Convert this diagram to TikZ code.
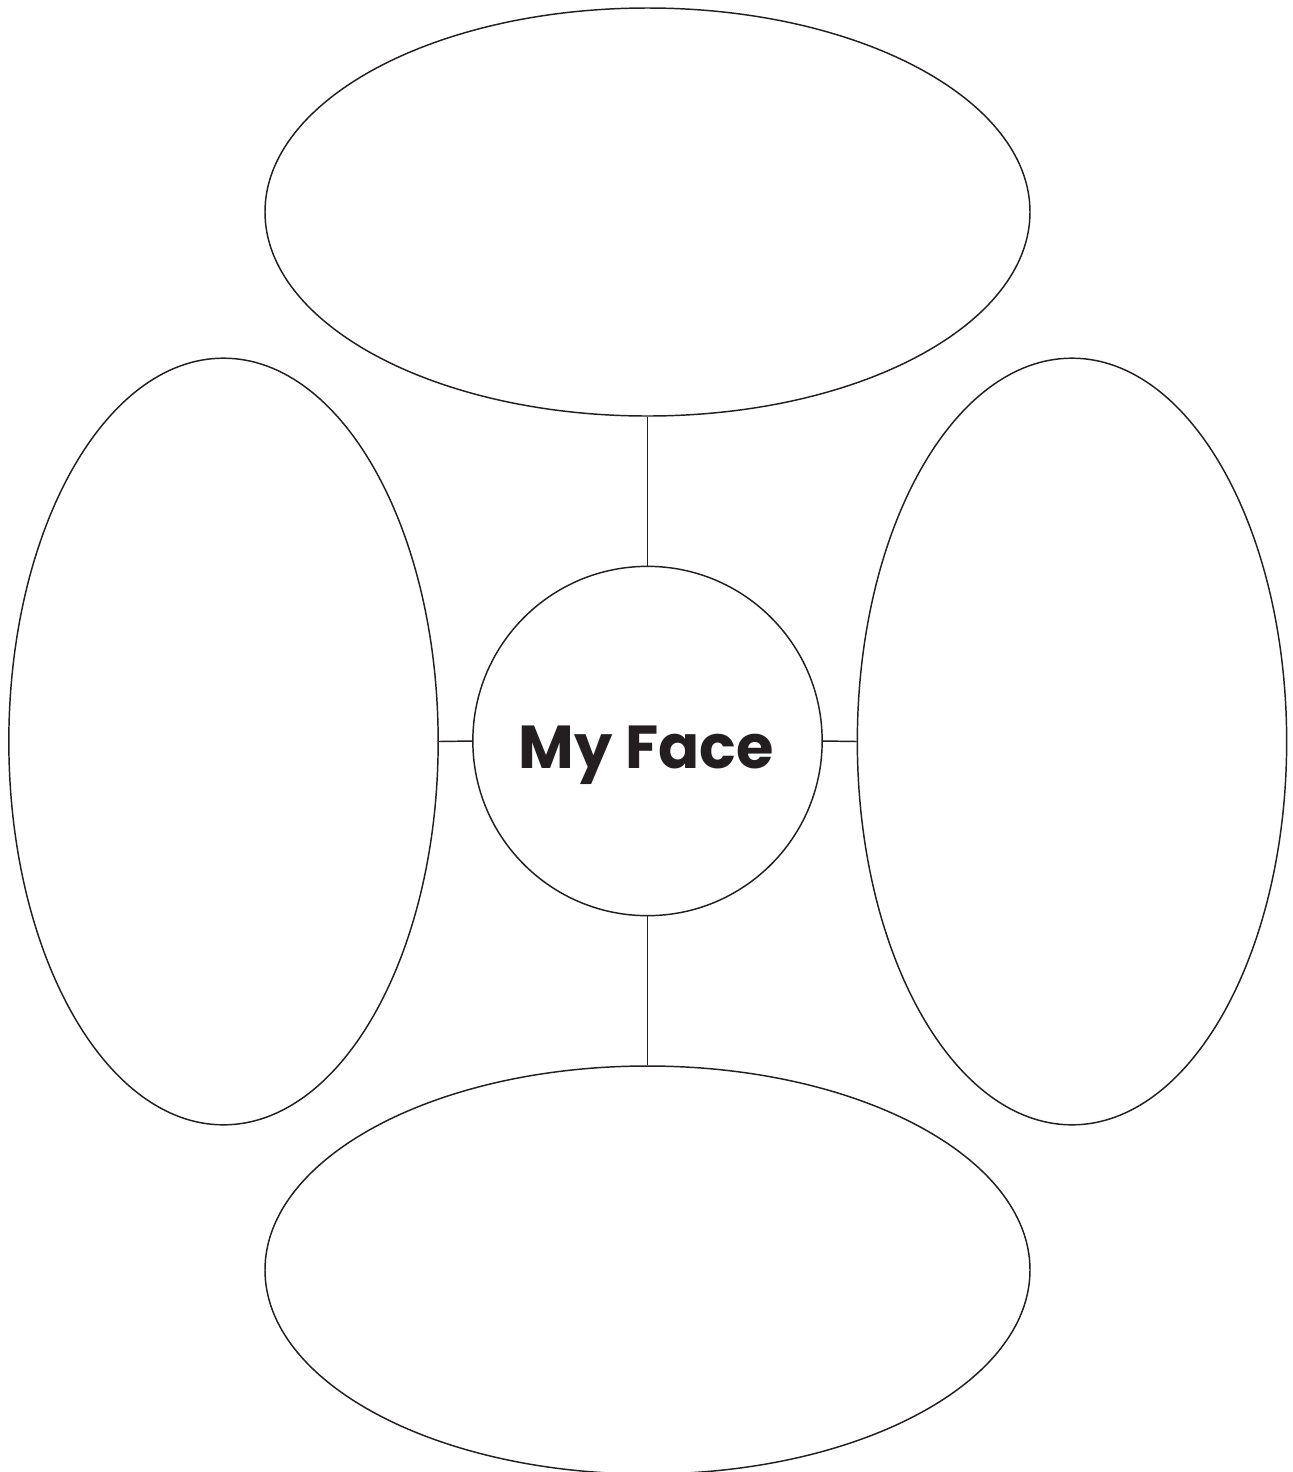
\documentclass[tikz,border=0pt]{standalone}
\usepackage{fontspec}
\setmainfont{Poppins}
\usetikzlibrary{shapes.geometric}

\definecolor{inkline}{RGB}{35,31,32}
\tikzset{every picture/.style={line width=1.1pt}}
\tikzset{
  petal/.style={draw=inkline, ellipse, inner sep=0pt},
  hub/.style={draw=inkline, circle, inner sep=0pt, minimum size=262pt},
  spoke/.style={draw=inkline, line width=1.1pt}
}

\begin{document}
\begin{tikzpicture}[x=0.75pt,y=0.75pt,yscale=-1,xscale=1]
\useasboundingbox (0,0) rectangle (1293,1472);
\clip (0,0) rectangle (1293,1472);

%Shape: Circle [hub]
\node [hub] (face) at (647.5,741) {};
%Shape: Ellipse [top]
\node [petal, minimum width=573.75pt, minimum height=306pt] (top) at (647.5,212) {};
%Shape: Ellipse [left]
\node [petal, minimum width=322pt, minimum height=575pt] (left) at (223.5,741.5) {};
%Shape: Ellipse [right]
\node [petal, minimum width=322pt, minimum height=575pt] (right) at (1072,741.5) {};
%Shape: Ellipse [bottom]
\node [petal, minimum width=573.75pt, minimum height=306pt] (bottom) at (647.5,1270) {};

%Straight Lines
\draw [spoke] (top.south) -- (face.north) ;
\draw [spoke] (face.south) -- (bottom.north) ;
\draw [spoke] (left.east) -- (face.west) ;
\draw [spoke] (face.east) -- (right.west) ;

% Text Node
\node [anchor=base, inner sep=0pt, text=inkline, font=\fontsize{45.5}{55}\selectfont\bfseries] (title) at (646,768) {My Face};

\end{tikzpicture}
\end{document}
